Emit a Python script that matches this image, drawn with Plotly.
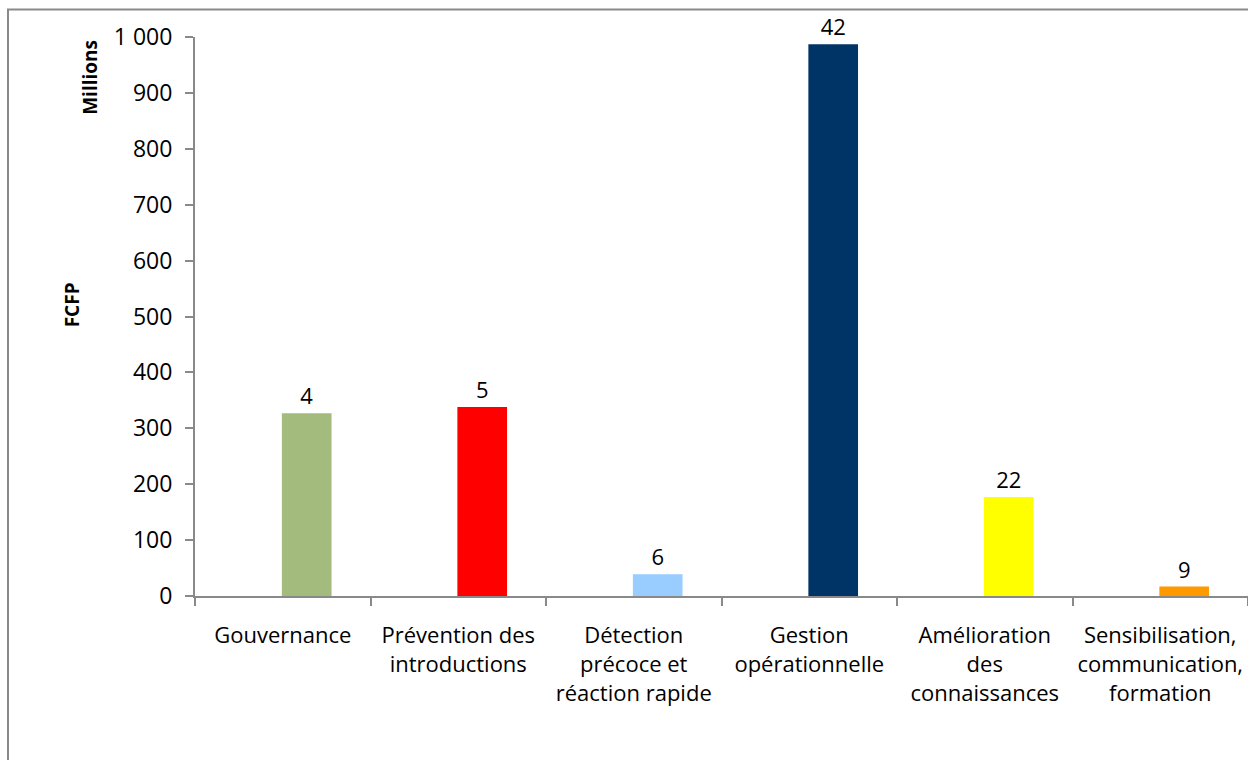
import plotly.graph_objects as go

categories = [
    "Gouvernance",
    "Prévention des<br>introductions",
    "Détection<br>précoce et<br>réaction rapide",
    "Gestion<br>opérationnelle",
    "Amélioration<br>des<br>connaissances",
    "Sensibilisation,<br>communication,<br>formation",
]
values_millions = [327, 338, 39, 987, 177, 17]
bar_labels = ["4", "5", "6", "42", "22", "9"]
bar_colors = ["#a3bb7c", "#ff0000", "#99ccff", "#003366", "#ffff00", "#ff9900"]

FONT = "Open Sans"
AXIS_GRAY = "#898989"

fig = go.Figure()
fig.add_trace(go.Bar(
    x=categories,
    y=values_millions,
    text=bar_labels,
    textposition="outside",
    textfont=dict(family=FONT, size=22, color="#000000"),
    marker=dict(color=bar_colors, line=dict(width=0)),
    width=0.283,
    offset=-0.005,
    cliponaxis=False,
    showlegend=False,
))

fig.update_layout(
    width=1248,
    height=760,
    margin=dict(l=195, r=0, t=37, b=164),
    paper_bgcolor="white",
    plot_bgcolor="white",
    separators=", ",
    font=dict(family=FONT, size=22, color="#000000"),
    xaxis=dict(
        type="category",
        range=[-0.5, 5.5],
        showline=True,
        linecolor=AXIS_GRAY,
        linewidth=2,
        ticks="outside",
        tickson="boundaries",
        ticklen=8,
        tickwidth=2,
        tickcolor=AXIS_GRAY,
        showgrid=False,
        tickfont=dict(family=FONT, size=22, color="#000000"),
        ticklabelstandoff=19,
        tickangle=0,
    ),
    yaxis=dict(
        range=[0, 1000],
        tickvals=[0, 100, 200, 300, 400, 500, 600, 700, 800, 900, 1000],
        tickformat=",d",
        showline=True,
        linecolor=AXIS_GRAY,
        linewidth=2,
        ticks="outside",
        ticklen=8,
        tickwidth=2,
        tickcolor=AXIS_GRAY,
        showgrid=False,
        zeroline=False,
        tickfont=dict(family=FONT, size=23, color="#000000"),
        ticklabelstandoff=8,
    ),
    annotations=[
        dict(text="<b>Millions</b>", textangle=-90, xref="paper", yref="paper",
             x=-0.0997, y=0.927, showarrow=False,
             font=dict(family=FONT, size=19, color="#000000"),
             xanchor="center", yanchor="middle"),
        dict(text="<b>FCFP</b>", textangle=-90, xref="paper", yref="paper",
             x=-0.1168, y=0.52, showarrow=False,
             font=dict(family=FONT, size=19, color="#000000"),
             xanchor="center", yanchor="middle"),
    ],
    shapes=[
        dict(type="rect", xref="paper", yref="paper",
             x0=-0.1776, y0=-0.5, x1=1.05, y1=1.0492,
             line=dict(color=AXIS_GRAY, width=2), fillcolor="rgba(0,0,0,0)",
             layer="below"),
    ],
)

fig.write_html("out.html")
